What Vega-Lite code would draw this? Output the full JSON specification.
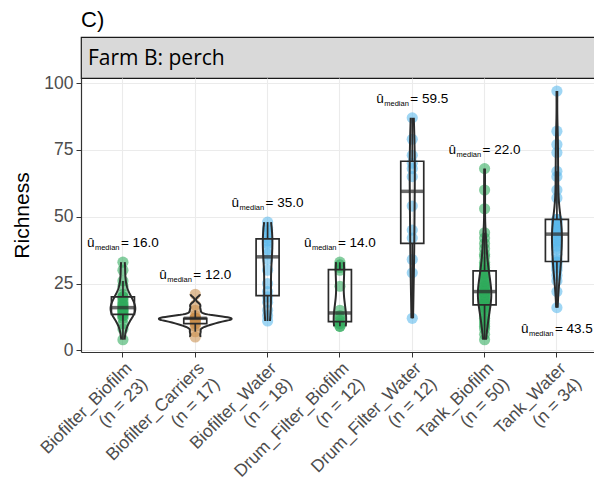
{
  "$schema": "https://vega.github.io/schema/vega-lite/v6.json",
  "padding": {"left": 11, "top": 8, "right": 0, "bottom": 0},
  "background": "white",
  "spacing": 0,
  "bounds": "flush",
  "config": {
    "view": {"stroke": null},
    "font": "Liberation Sans"
  },
  "datasets": {
    "richness": [
      {"group": "Biofilter_Biofilm", "Richness": 4}, {"group": "Biofilter_Biofilm", "Richness": 8}, {"group": "Biofilter_Biofilm", "Richness": 10}, {"group": "Biofilter_Biofilm", "Richness": 12}, {"group": "Biofilter_Biofilm", "Richness": 13}, {"group": "Biofilter_Biofilm", "Richness": 13}, {"group": "Biofilter_Biofilm", "Richness": 14}, {"group": "Biofilter_Biofilm", "Richness": 14}, {"group": "Biofilter_Biofilm", "Richness": 15}, {"group": "Biofilter_Biofilm", "Richness": 15}, {"group": "Biofilter_Biofilm", "Richness": 16}, {"group": "Biofilter_Biofilm", "Richness": 16}, {"group": "Biofilter_Biofilm", "Richness": 17}, {"group": "Biofilter_Biofilm", "Richness": 17}, {"group": "Biofilter_Biofilm", "Richness": 18}, {"group": "Biofilter_Biofilm", "Richness": 19}, {"group": "Biofilter_Biofilm", "Richness": 20}, {"group": "Biofilter_Biofilm", "Richness": 20}, {"group": "Biofilter_Biofilm", "Richness": 21}, {"group": "Biofilter_Biofilm", "Richness": 24}, {"group": "Biofilter_Biofilm", "Richness": 26}, {"group": "Biofilter_Biofilm", "Richness": 30}, {"group": "Biofilter_Biofilm", "Richness": 33},
      {"group": "Biofilter_Carriers", "Richness": 5}, {"group": "Biofilter_Carriers", "Richness": 7}, {"group": "Biofilter_Carriers", "Richness": 9}, {"group": "Biofilter_Carriers", "Richness": 10}, {"group": "Biofilter_Carriers", "Richness": 10}, {"group": "Biofilter_Carriers", "Richness": 11}, {"group": "Biofilter_Carriers", "Richness": 11}, {"group": "Biofilter_Carriers", "Richness": 12}, {"group": "Biofilter_Carriers", "Richness": 12}, {"group": "Biofilter_Carriers", "Richness": 12}, {"group": "Biofilter_Carriers", "Richness": 12}, {"group": "Biofilter_Carriers", "Richness": 12}, {"group": "Biofilter_Carriers", "Richness": 12}, {"group": "Biofilter_Carriers", "Richness": 13}, {"group": "Biofilter_Carriers", "Richness": 15}, {"group": "Biofilter_Carriers", "Richness": 17}, {"group": "Biofilter_Carriers", "Richness": 21},
      {"group": "Biofilter_Water", "Richness": 11}, {"group": "Biofilter_Water", "Richness": 13}, {"group": "Biofilter_Water", "Richness": 15}, {"group": "Biofilter_Water", "Richness": 18}, {"group": "Biofilter_Water", "Richness": 20}, {"group": "Biofilter_Water", "Richness": 22}, {"group": "Biofilter_Water", "Richness": 25}, {"group": "Biofilter_Water", "Richness": 30}, {"group": "Biofilter_Water", "Richness": 34}, {"group": "Biofilter_Water", "Richness": 36}, {"group": "Biofilter_Water", "Richness": 38}, {"group": "Biofilter_Water", "Richness": 40}, {"group": "Biofilter_Water", "Richness": 41}, {"group": "Biofilter_Water", "Richness": 42}, {"group": "Biofilter_Water", "Richness": 44}, {"group": "Biofilter_Water", "Richness": 45}, {"group": "Biofilter_Water", "Richness": 46}, {"group": "Biofilter_Water", "Richness": 48},
      {"group": "Drum_Filter_Biofilm", "Richness": 9}, {"group": "Drum_Filter_Biofilm", "Richness": 9}, {"group": "Drum_Filter_Biofilm", "Richness": 10}, {"group": "Drum_Filter_Biofilm", "Richness": 11}, {"group": "Drum_Filter_Biofilm", "Richness": 12}, {"group": "Drum_Filter_Biofilm", "Richness": 13}, {"group": "Drum_Filter_Biofilm", "Richness": 15}, {"group": "Drum_Filter_Biofilm", "Richness": 24}, {"group": "Drum_Filter_Biofilm", "Richness": 30}, {"group": "Drum_Filter_Biofilm", "Richness": 31}, {"group": "Drum_Filter_Biofilm", "Richness": 32}, {"group": "Drum_Filter_Biofilm", "Richness": 33},
      {"group": "Drum_Filter_Water", "Richness": 12}, {"group": "Drum_Filter_Water", "Richness": 29}, {"group": "Drum_Filter_Water", "Richness": 34}, {"group": "Drum_Filter_Water", "Richness": 42}, {"group": "Drum_Filter_Water", "Richness": 45}, {"group": "Drum_Filter_Water", "Richness": 54}, {"group": "Drum_Filter_Water", "Richness": 65}, {"group": "Drum_Filter_Water", "Richness": 68}, {"group": "Drum_Filter_Water", "Richness": 70}, {"group": "Drum_Filter_Water", "Richness": 73}, {"group": "Drum_Filter_Water", "Richness": 79}, {"group": "Drum_Filter_Water", "Richness": 87},
      {"group": "Tank_Biofilm", "Richness": 4}, {"group": "Tank_Biofilm", "Richness": 6}, {"group": "Tank_Biofilm", "Richness": 8}, {"group": "Tank_Biofilm", "Richness": 9}, {"group": "Tank_Biofilm", "Richness": 10}, {"group": "Tank_Biofilm", "Richness": 11}, {"group": "Tank_Biofilm", "Richness": 12}, {"group": "Tank_Biofilm", "Richness": 13}, {"group": "Tank_Biofilm", "Richness": 14}, {"group": "Tank_Biofilm", "Richness": 15}, {"group": "Tank_Biofilm", "Richness": 16}, {"group": "Tank_Biofilm", "Richness": 16}, {"group": "Tank_Biofilm", "Richness": 17}, {"group": "Tank_Biofilm", "Richness": 17}, {"group": "Tank_Biofilm", "Richness": 18}, {"group": "Tank_Biofilm", "Richness": 18}, {"group": "Tank_Biofilm", "Richness": 19}, {"group": "Tank_Biofilm", "Richness": 19}, {"group": "Tank_Biofilm", "Richness": 20}, {"group": "Tank_Biofilm", "Richness": 20}, {"group": "Tank_Biofilm", "Richness": 21}, {"group": "Tank_Biofilm", "Richness": 21}, {"group": "Tank_Biofilm", "Richness": 21}, {"group": "Tank_Biofilm", "Richness": 22}, {"group": "Tank_Biofilm", "Richness": 22}, {"group": "Tank_Biofilm", "Richness": 22}, {"group": "Tank_Biofilm", "Richness": 23}, {"group": "Tank_Biofilm", "Richness": 23}, {"group": "Tank_Biofilm", "Richness": 24}, {"group": "Tank_Biofilm", "Richness": 24}, {"group": "Tank_Biofilm", "Richness": 25}, {"group": "Tank_Biofilm", "Richness": 26}, {"group": "Tank_Biofilm", "Richness": 26}, {"group": "Tank_Biofilm", "Richness": 27}, {"group": "Tank_Biofilm", "Richness": 28}, {"group": "Tank_Biofilm", "Richness": 29}, {"group": "Tank_Biofilm", "Richness": 29}, {"group": "Tank_Biofilm", "Richness": 30}, {"group": "Tank_Biofilm", "Richness": 31}, {"group": "Tank_Biofilm", "Richness": 32}, {"group": "Tank_Biofilm", "Richness": 33}, {"group": "Tank_Biofilm", "Richness": 35}, {"group": "Tank_Biofilm", "Richness": 36}, {"group": "Tank_Biofilm", "Richness": 38}, {"group": "Tank_Biofilm", "Richness": 40}, {"group": "Tank_Biofilm", "Richness": 42}, {"group": "Tank_Biofilm", "Richness": 44}, {"group": "Tank_Biofilm", "Richness": 53}, {"group": "Tank_Biofilm", "Richness": 60}, {"group": "Tank_Biofilm", "Richness": 68},
      {"group": "Tank_Water", "Richness": 16}, {"group": "Tank_Water", "Richness": 22}, {"group": "Tank_Water", "Richness": 26}, {"group": "Tank_Water", "Richness": 28}, {"group": "Tank_Water", "Richness": 30}, {"group": "Tank_Water", "Richness": 31}, {"group": "Tank_Water", "Richness": 32}, {"group": "Tank_Water", "Richness": 33}, {"group": "Tank_Water", "Richness": 33}, {"group": "Tank_Water", "Richness": 34}, {"group": "Tank_Water", "Richness": 36}, {"group": "Tank_Water", "Richness": 38}, {"group": "Tank_Water", "Richness": 39}, {"group": "Tank_Water", "Richness": 40}, {"group": "Tank_Water", "Richness": 41}, {"group": "Tank_Water", "Richness": 42}, {"group": "Tank_Water", "Richness": 43}, {"group": "Tank_Water", "Richness": 44}, {"group": "Tank_Water", "Richness": 45}, {"group": "Tank_Water", "Richness": 45}, {"group": "Tank_Water", "Richness": 46}, {"group": "Tank_Water", "Richness": 47}, {"group": "Tank_Water", "Richness": 48}, {"group": "Tank_Water", "Richness": 48}, {"group": "Tank_Water", "Richness": 49}, {"group": "Tank_Water", "Richness": 49}, {"group": "Tank_Water", "Richness": 57}, {"group": "Tank_Water", "Richness": 60}, {"group": "Tank_Water", "Richness": 65}, {"group": "Tank_Water", "Richness": 67}, {"group": "Tank_Water", "Richness": 74}, {"group": "Tank_Water", "Richness": 77}, {"group": "Tank_Water", "Richness": 82}, {"group": "Tank_Water", "Richness": 97}
    ]
  },
  "vconcat": [
    {
      "title": {"text": "C)", "anchor": "start", "frame": "group", "fontSize": 22, "fontWeight": "normal", "font": "Liberation Sans", "color": "black", "offset": 5},
      "width": 514,
      "height": 41,
      "view": {"fill": "#D9D9D9", "stroke": "#1a1a1a", "strokeWidth": 1.2},
      "data": {"values": [{"panel": "Farm B: perch"}]},
      "mark": {"type": "text", "align": "left", "baseline": "middle", "font": "Open Sans", "fontSize": 21, "color": "black", "dx": 7, "dy": 1},
      "encoding": {
        "x": {"field": "panel", "type": "nominal", "axis": null, "bandPosition": 0, "scale": {"type": "band", "paddingInner": 0, "paddingOuter": 0}},
        "y": {"field": "panel", "type": "nominal", "axis": null, "scale": {"type": "band", "paddingInner": 0, "paddingOuter": 0}},
        "text": {"field": "panel"}
      }
    },
    {
      "width": 514,
      "height": 274,
      "data": {"name": "richness"},
      "transform": [
        {"joinaggregate": [{"op": "count", "as": "n"}], "groupby": ["group"]},
        {"calculate": "datum.group + '|(n = ' + datum.n + ')'", "as": "xlabel"}
      ],
      "encoding": {
        "x": {
          "field": "xlabel",
          "type": "nominal",
          "scale": {"type": "band", "paddingInner": 0, "paddingOuter": 0.0532, "align": 0.75},
          "axis": {
            "title": null,
            "labelExpr": "split(datum.label, '|')",
            "labelAngle": -45,
            "labelAlign": "right",
            "labelBaseline": "top",
            "labelFont": "Liberation Sans",
            "labelFontSize": 17.5,
            "labelLineHeight": 22,
            "labelColor": "#4d4d4d",
            "labelPadding": 2,
            "tickSize": 5,
            "tickColor": "#333333",
            "domainColor": "#333333",
            "domainWidth": 1.2,
            "grid": true,
            "gridColor": "#ebebeb",
            "gridWidth": 1.1,
            "bandPosition": 0.5
          }
        }
      },
      "layer": [
        {
          "mark": {"type": "circle", "size": 125, "opacity": 0.58},
          "encoding": {
            "y": {
              "field": "Richness",
              "type": "quantitative",
              "title": "Richness",
              "scale": {"domain": [-0.6, 101.9], "nice": false, "zero": false},
              "axis": {
                "values": [0, 12.5, 25, 37.5, 50, 62.5, 75, 87.5, 100],
                "labelExpr": "datum.value % 25 === 0 ? datum.label : ''",
                "labelFont": "Liberation Sans",
                "labelFontSize": 17.5,
                "labelColor": "#4d4d4d",
                "labelPadding": 3,
                "labelOverlap": false,
                "tickSize": 5,
                "tickColor": {"condition": {"test": "datum.value % 25 === 0", "value": "#333333"}, "value": "transparent"},
                "domainColor": "#333333",
                "domainWidth": 1.2,
                "grid": true,
                "gridColor": {"condition": {"test": "datum.value % 25 === 0", "value": "#ebebeb"}, "value": "#f2f2f2"},
                "gridWidth": {"condition": {"test": "datum.value % 25 === 0", "value": 1.1}, "value": 0.6},
                "titleFont": "Liberation Sans",
                "titleFontSize": 21,
                "titleFontWeight": "normal",
                "titleColor": "black",
                "titlePadding": 11
              }
            },
            "color": {
              "field": "group",
              "type": "nominal",
              "legend": null,
              "scale": {
                "domain": ["Biofilter_Biofilm", "Biofilter_Carriers", "Biofilter_Water", "Drum_Filter_Biofilm", "Drum_Filter_Water", "Tank_Biofilm", "Tank_Water"],
                "range": ["#2eaa5c", "#c98f4e", "#5ab8ec", "#2eaa5c", "#5ab8ec", "#2eaa5c", "#5ab8ec"]
              }
            }
          }
        },
        {
          "transform": [
            {"density": "Richness", "groupby": ["xlabel"], "resolve": "independent", "as": ["value", "density"]}
          ],
          "layer": [
            {
              "mark": {"type": "line", "color": "#2b2b2b", "strokeWidth": 2, "interpolate": "linear"},
              "encoding": {
                "y": {"field": "value", "type": "quantitative", "title": "Richness", "scale": {"domain": [-0.6, 101.9], "nice": false, "zero": false}},
                "xOffset": {"field": "density", "type": "quantitative", "scale": {"domain": [-0.205, 0.205]}},
                "detail": {"field": "xlabel"},
                "order": {"field": "value", "type": "quantitative"}
              }
            },
            {
              "mark": {"type": "line", "color": "#2b2b2b", "strokeWidth": 2, "interpolate": "linear"},
              "encoding": {
                "y": {"field": "value", "type": "quantitative", "title": "Richness", "scale": {"domain": [-0.6, 101.9], "nice": false, "zero": false}},
                "xOffset": {"field": "density", "type": "quantitative", "scale": {"domain": [-0.205, 0.205], "reverse": true}},
                "detail": {"field": "xlabel"},
                "order": {"field": "value", "type": "quantitative"}
              }
            }
          ],
          "resolve": {"scale": {"xOffset": "independent"}}
        },
        {
          "mark": {
            "type": "boxplot",
            "extent": 1.5,
            "size": 23,
            "ticks": false,
            "outliers": false,
            "box": {"fill": "transparent", "stroke": "#2b2b2b", "strokeWidth": 1.7},
            "median": {"color": "#2b2b2b", "thickness": 3.5},
            "rule": {"color": "#2b2b2b", "strokeWidth": 1.7}
          },
          "encoding": {
            "y": {"field": "Richness", "type": "quantitative", "title": "Richness", "scale": {"domain": [-0.6, 101.9], "nice": false, "zero": false}}
          }
        },
        {
          "transform": [
            {"aggregate": [
              {"op": "median", "field": "Richness", "as": "med"},
              {"op": "max", "field": "Richness", "as": "top"},
              {"op": "min", "field": "Richness", "as": "bottom"}
            ], "groupby": ["xlabel"]},
            {"calculate": "'= ' + format(datum.med, '.1f')", "as": "medtext"}
          ],
          "layer": [
            {
              "transform": [{"filter": "datum.top < 95"}],
              "encoding": {
                "y": {"field": "top", "type": "quantitative", "title": "Richness", "scale": {"domain": [-0.6, 101.9], "nice": false, "zero": false}}
              },
              "layer": [
                {"mark": {"type": "text", "text": "û", "align": "left", "baseline": "alphabetic", "font": "Liberation Sans", "fontSize": 13.5, "color": "black", "dx": -36, "dy": -15}},
                {"mark": {"type": "text", "text": "median", "align": "left", "baseline": "alphabetic", "font": "Liberation Sans", "fontSize": 7.5, "color": "black", "dx": -28, "dy": -12}},
                {"mark": {"type": "text", "align": "left", "baseline": "alphabetic", "font": "Liberation Sans", "fontSize": 13.5, "color": "black", "dx": -2, "dy": -15}, "encoding": {"text": {"field": "medtext"}}}
              ]
            },
            {
              "transform": [{"filter": "datum.top >= 95"}],
              "encoding": {
                "y": {"field": "bottom", "type": "quantitative", "title": "Richness", "scale": {"domain": [-0.6, 101.9], "nice": false, "zero": false}}
              },
              "layer": [
                {"mark": {"type": "text", "text": "û", "align": "left", "baseline": "alphabetic", "font": "Liberation Sans", "fontSize": 13.5, "color": "black", "dx": -36, "dy": 25}},
                {"mark": {"type": "text", "text": "median", "align": "left", "baseline": "alphabetic", "font": "Liberation Sans", "fontSize": 7.5, "color": "black", "dx": -28, "dy": 28}},
                {"mark": {"type": "text", "align": "left", "baseline": "alphabetic", "font": "Liberation Sans", "fontSize": 13.5, "color": "black", "dx": -2, "dy": 25}, "encoding": {"text": {"field": "medtext"}}}
              ]
            }
          ]
        }
      ]
    }
  ]
}
